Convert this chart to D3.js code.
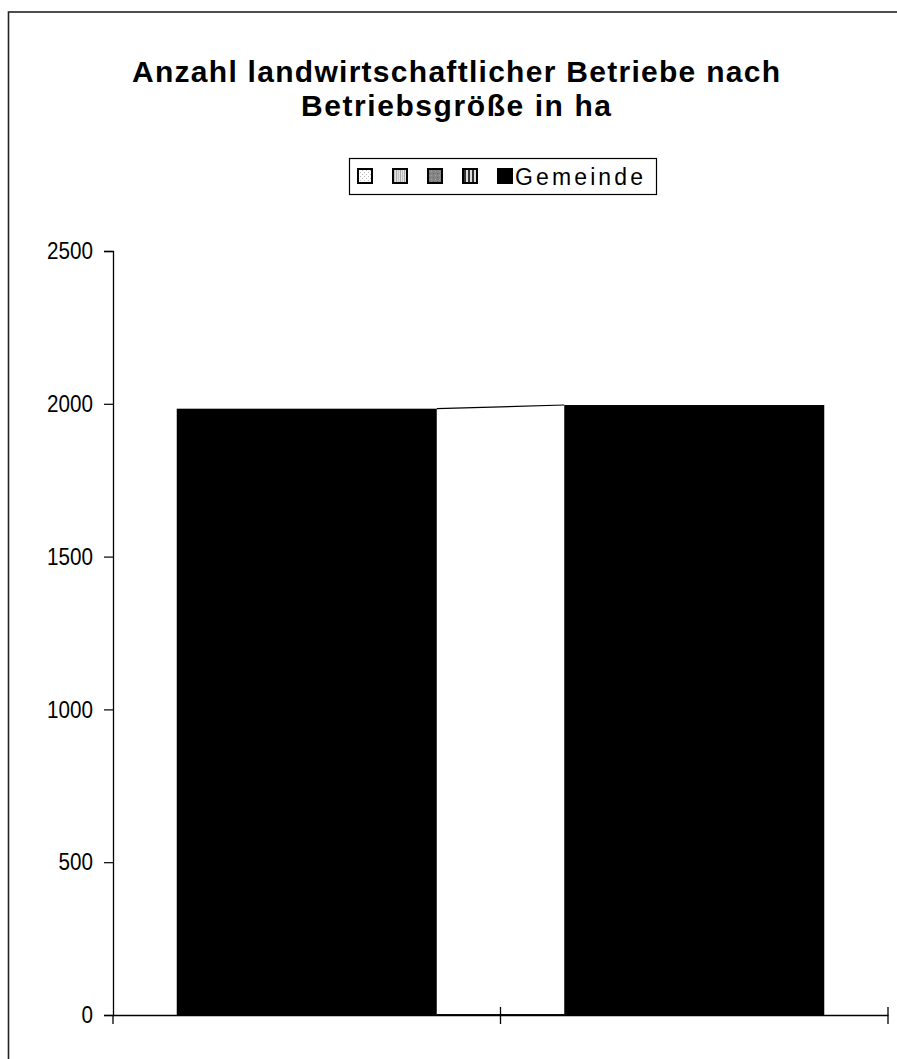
<!DOCTYPE html>
<html>
<head>
<meta charset="utf-8">
<script src="https://cdn.jsdelivr.net/npm/d3@7"></script>
<style>
  html, body { margin: 0; padding: 0; background: #fff; }
  svg { display: block; }
</style>
</head>
<body>
<svg id="chart" width="897" height="1059"></svg>
<script>
// ---- data ----
const categories = ["A", "B"];
const seriesNames = ["", "", "", "", "Gemeinde"];
const seriesValues = [
  [0, 0],
  [0, 0],
  [0, 0],
  [0, 0],
  [1984, 1996]
];
const yTicks = [0, 500, 1000, 1500, 2000, 2500];
const titleLines = ["Anzahl landwirtschaftlicher Betriebe nach", "Betriebsgröße in ha"];

// ---- setup ----
const svg = d3.select("#chart");
const W = 897, H = 1059;
const plot = { left: 113, right: 888, top: 251, bottom: 1015 };
const font = "'Liberation Sans', Arial, sans-serif";

svg.append("rect").attr("x", 0).attr("y", 0).attr("width", W).attr("height", H).attr("fill", "#fff");
// outer chart-area border
svg.append("rect").attr("x", 8.5).attr("y", 12).attr("width", W + 20).attr("height", H + 20)
  .attr("fill", "none").attr("stroke", "#222").attr("stroke-width", 1.6);

// patterns
const defs = svg.append("defs");
function pat(id, draw) {
  const p = defs.append("pattern").attr("id", id).attr("patternUnits", "userSpaceOnUse")
    .attr("width", 4).attr("height", 4);
  draw(p);
}
pat("p0", p => {
  p.append("rect").attr("width", 4).attr("height", 4).attr("fill", "#fff");
  p.append("rect").attr("x", 0).attr("y", 0).attr("width", 1).attr("height", 1).attr("fill", "#bbb");
  p.append("rect").attr("x", 2).attr("y", 2).attr("width", 1).attr("height", 1).attr("fill", "#bbb");
});
pat("p1", p => {
  p.append("rect").attr("width", 4).attr("height", 4).attr("fill", "#e0e0e0");
  p.append("rect").attr("x", 0).attr("y", 0).attr("width", 1).attr("height", 4).attr("fill", "#aaa");
  p.append("rect").attr("x", 2).attr("y", 0).attr("width", 1).attr("height", 4).attr("fill", "#c4c4c4");
});
pat("p2", p => {
  p.append("rect").attr("width", 4).attr("height", 4).attr("fill", "#858585");
  p.append("rect").attr("x", 1).attr("y", 1).attr("width", 1).attr("height", 1).attr("fill", "#666");
  p.append("rect").attr("x", 3).attr("y", 3).attr("width", 1).attr("height", 1).attr("fill", "#a0a0a0");
});
pat("p3", p => {
  p.append("rect").attr("width", 4).attr("height", 4).attr("fill", "#ddd");
  p.append("rect").attr("x", 0).attr("y", 0).attr("width", 2).attr("height", 4).attr("fill", "#333");
});
const fills = ["url(#p0)", "url(#p1)", "url(#p2)", "url(#p3)", "#000"];

// scales
const x = d3.scaleBand().domain(categories).range([plot.left, plot.right]).padding(0);
const y = d3.scaleLinear().domain([0, 2500]).range([plot.bottom, plot.top]);
const barW = x.bandwidth() * 0.671;

// stack
const rows = categories.map((c, i) => {
  const r = { cat: c };
  seriesNames.forEach((s, k) => r["s" + k] = seriesValues[k][i]);
  return r;
});
const keys = seriesNames.map((s, k) => "s" + k);
const stacked = d3.stack().keys(keys)(rows);

// bars
stacked.forEach((layer, k) => {
  svg.append("g").selectAll("rect").data(layer).join("rect")
    .attr("x", d => x(d.data.cat) + (x.bandwidth() - barW) / 2)
    .attr("y", d => y(d[1]))
    .attr("width", barW)
    .attr("height", d => y(d[0]) - y(d[1]))
    .attr("fill", fills[k]);
});

// series lines
stacked.forEach((layer, k) => {
  for (let i = 0; i < layer.length - 1; i++) {
    const a = layer[i], b = layer[i + 1];
    svg.append("line")
      .attr("x1", x(a.data.cat) + (x.bandwidth() + barW) / 2)
      .attr("y1", y(a[1]))
      .attr("x2", x(b.data.cat) + (x.bandwidth() - barW) / 2)
      .attr("y2", y(b[1]))
      .attr("stroke", "#000").attr("stroke-width", 1.2);
  }
});

// y axis
const yAxis = d3.axisLeft(y).tickValues(yTicks).tickSize(9).tickPadding(11).tickFormat(d3.format("d"));
const gy = svg.append("g").attr("transform", `translate(${plot.left},0)`).call(yAxis);
gy.select(".domain").attr("stroke", "#000").attr("stroke-width", 1.3);
gy.selectAll(".tick line").attr("stroke", "#000").attr("stroke-width", 1.2);
gy.selectAll(".tick text").attr("font-family", font).attr("font-size", 24).attr("fill", "#000")
  .each(function() {
    const w = this.getComputedTextLength();
    d3.select(this).attr("textLength", w * 0.86).attr("lengthAdjust", "spacingAndGlyphs");
  });

// x axis
const xAxis = d3.axisBottom(x).tickSize(0).tickFormat("");
const gx = svg.append("g").attr("transform", `translate(0,${plot.bottom})`).call(xAxis);
gx.select(".domain").attr("stroke", "#000").attr("stroke-width", 1.5);
gx.selectAll(".tick").remove();
const xTickPos = [plot.left, ...categories.slice(1).map(c => x(c)), plot.right];
gx.selectAll(".xt").data(xTickPos).join("line").attr("class", "xt")
  .attr("x1", d => d).attr("x2", d => d)
  .attr("y1", (d, i) => i === 0 ? 0 : -8).attr("y2", 9)
  .attr("stroke", "#000").attr("stroke-width", 1.3);

// title
svg.append("g").selectAll("text").data(titleLines).join("text")
  .attr("x", 456).attr("y", (d, i) => 82 + i * 34)
  .attr("text-anchor", "middle")
  .attr("font-family", font).attr("font-weight", "bold").attr("font-size", 30)
  .attr("textLength", (d, i) => i === 0 ? 648 : 310)
  .attr("lengthAdjust", "spacing")
  .text(d => d);

// legend
const lg = svg.append("g");
lg.append("rect").attr("x", 349.5).attr("y", 158.5).attr("width", 307).attr("height", 36)
  .attr("fill", "#fff").attr("stroke", "#000").attr("stroke-width", 1.2);
const legX = [358, 393, 428, 463, 498];
seriesNames.forEach((s, k) => {
  lg.append("rect").attr("x", legX[k]).attr("y", 169).attr("width", 14).attr("height", 14)
    .attr("fill", fills[k]).attr("stroke", "#000").attr("stroke-width", 2);
  if (s) {
    lg.append("text").attr("x", legX[k] + 17).attr("y", 185)
      .attr("font-family", font).attr("font-size", 23)
      .attr("textLength", 128).attr("lengthAdjust", "spacing")
      .text(s);
  }
});
</script>
</body>
</html>
